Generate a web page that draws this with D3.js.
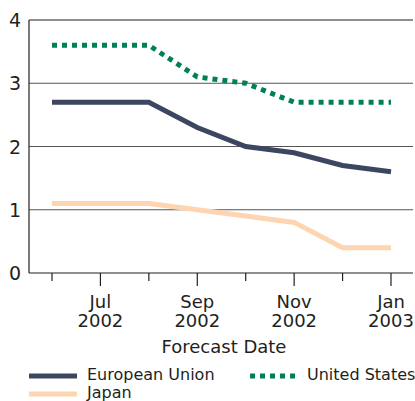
<!DOCTYPE html>
<html>
<head>
<meta charset="utf-8">
<script src="https://cdn.jsdelivr.net/npm/d3@7"></script>
<style>
  body { margin: 0; background: #fff; }
  text { font-family: "DejaVu Sans", Verdana, sans-serif; fill: #231f20; }
</style>
</head>
<body>
<div id="root"></div>
<script>
// months of forecast, Jun 2002 .. Jan 2003
var months = ["Jun", "Jul", "Aug", "Sep", "Oct", "Nov", "Dec", "Jan"];
var years = ["2002", "2002", "2002", "2002", "2002", "2002", "2002", "2003"];
var euValues = [2.7, 2.7, 2.7, 2.3, 2.0, 1.9, 1.7, 1.6];
var usValues = [3.6, 3.6, 3.6, 3.1, 3.0, 2.7, 2.7, 2.7];
var jpValues = [1.1, 1.1, 1.1, 1.0, 0.9, 0.8, 0.4, 0.4];
var yTicks = [0, 1, 2, 3, 4];

var W = 415, H = 401;
var margin = {left: 29, right: 413, top: 20, bottom: 273};

var svg = d3.select("#root").append("svg")
  .attr("width", W)
  .attr("height", H);

var x = d3.scaleLinear().domain([0, months.length - 1]).range([52, 391]);
var y = d3.scaleLinear().domain([0, 4]).range([margin.bottom, margin.top]);

// gridlines
svg.append("g").selectAll("line")
  .data(yTicks.filter(function(d) { return d > 0; }))
  .enter().append("line")
  .attr("x1", margin.left).attr("x2", margin.right)
  .attr("y1", function(d) { return y(d); })
  .attr("y2", function(d) { return y(d); })
  .attr("stroke", function(d) { return d == 4 ? "#231f20" : "#555"; })
  .attr("stroke-width", 1.2);

// y labels
svg.append("g").selectAll("text")
  .data(yTicks)
  .enter().append("text")
  .attr("x", 21)
  .attr("y", function(d) { return y(d) + 7; })
  .attr("text-anchor", "end")
  .style("font-size", "19px")
  .text(function(d) { return d; });

// axis lines
svg.append("line").attr("x1", margin.left).attr("x2", margin.left)
  .attr("y1", margin.top).attr("y2", margin.bottom)
  .attr("stroke", "#231f20").attr("stroke-width", 1.2);
svg.append("line").attr("x1", margin.left).attr("x2", margin.right)
  .attr("y1", margin.bottom).attr("y2", margin.bottom)
  .attr("stroke", "#231f20").attr("stroke-width", 1.2);

// x ticks, long ones on labelled months
svg.append("g").selectAll("line")
  .data(d3.range(months.length))
  .enter().append("line")
  .attr("x1", function(d) { return x(d); })
  .attr("x2", function(d) { return x(d); })
  .attr("y1", margin.bottom)
  .attr("y2", function(d) { return d % 2 == 1 ? margin.bottom + 13 : margin.bottom + 8; })
  .attr("stroke", "#231f20").attr("stroke-width", 1.2);

var lab = svg.append("g").selectAll("text")
  .data(d3.range(months.length).filter(function(d) { return d % 2 == 1; }))
  .enter().append("text")
  .attr("text-anchor", "middle")
  .style("font-size", "18px");
lab.append("tspan").attr("x", function(d) { return x(d); }).attr("y", 308)
  .text(function(d) { return months[d]; });
lab.append("tspan").attr("x", function(d) { return x(d); }).attr("y", 327)
  .text(function(d) { return years[d]; });

svg.append("text")
  .attr("x", 224).attr("y", 353)
  .attr("text-anchor", "middle")
  .style("font-size", "18px")
  .text("Forecast Date");

var line = d3.line()
  .x(function(d, i) { return x(i); })
  .y(function(d) { return y(d); });

var series = [
  { name: "Japan", values: jpValues, color: "#fdd5b0", dash: null },
  { name: "European Union", values: euValues, color: "#3d4660", dash: null },
  { name: "United States", values: usValues, color: "#00805a", dash: "5,5" }
];

svg.append("g").selectAll("path")
  .data(series)
  .enter().append("path")
  .attr("d", function(d) { return line(d.values); })
  .attr("fill", "none")
  .attr("stroke", function(d) { return d.color; })
  .attr("stroke-width", 5)
  .attr("stroke-dasharray", function(d) { return d.dash; });

// legend
var legend = [
  { s: series[1], x: 29, y: 376 },
  { s: series[0], x: 29, y: 394 },
  { s: series[2], x: 250, y: 376 }
];
var lg = svg.append("g").selectAll("g")
  .data(legend)
  .enter().append("g");
lg.append("line")
  .attr("x1", function(d) { return d.x; })
  .attr("x2", function(d) { return d.x + 48; })
  .attr("y1", function(d) { return d.y; })
  .attr("y2", function(d) { return d.y; })
  .attr("stroke", function(d) { return d.s.color; })
  .attr("stroke-width", 5)
  .attr("stroke-dasharray", function(d) { return d.s.dash; });
lg.append("text")
  .attr("x", function(d) { return d.x + (d.s.dash ? 57 : 58); })
  .attr("y", function(d) { return d.y + 3.5; })
  .style("font-size", "16px")
  .text(function(d) { return d.s.name; });
</script>
</body>
</html>
